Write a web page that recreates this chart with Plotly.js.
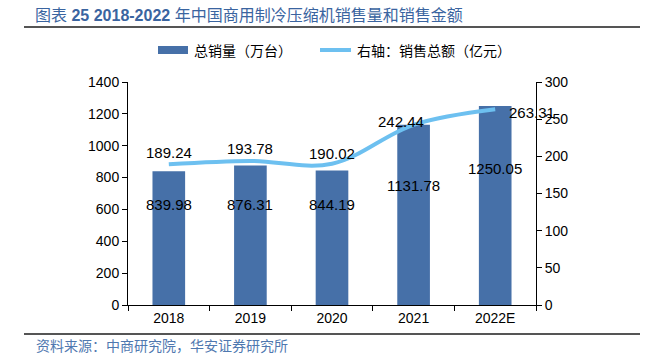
<!DOCTYPE html>
<html><head><meta charset="utf-8">
<script src="https://cdn.plot.ly/plotly-3.0.1.min.js"></script>
<style>html,body{margin:0;padding:0;background:#fff}</style>
</head><body><div id="chart" style="width:653px;height:360px"></div>
<script>
const years = ['2018', '2019', '2020', '2021', '2022E'];
const salesVolume = [839.98, 876.31, 844.19, 1131.78, 1250.05];
const salesAmount = [189.24, 193.78, 190.02, 242.44, 263.31];
const leftTicks = [0, 200, 400, 600, 800, 1000, 1200, 1400];
const rightTicks = [0, 50, 100, 150, 200, 250, 300];

const barLabelY = [628, 628, 628, 753, 860];
const lineLabelShiftX = [0, 0, 0, -13, 37];
const lineLabelShiftY = [12, 12, 10, 3, -3];

const FONT = 'Liberation Sans, Arial, Noto Sans CJK SC, sans-serif';
const CJK = 'Noto Sans CJK SC, sans-serif';
const L = 128, R = 536, T = 82, B = 305;
const px = X => (X - L) / (R - L);
const py = Y => (B - Y) / (B - T);

const bar = {type: 'bar', x: years, y: salesVolume, marker: {color: '#4670A8'}, yaxis: 'y', hoverinfo: 'none', showlegend: false};
const line = {type: 'scatter', mode: 'lines', x: years, y: salesAmount, yaxis: 'y2',
  line: {color: '#6DC0F0', width: 4, shape: 'spline', smoothing: 1}, hoverinfo: 'none', showlegend: false};

const annotations = [];
years.forEach((yr, i) => {
  annotations.push({x: i, y: barLabelY[i], xref: 'x', yref: 'y', text: salesVolume[i].toFixed(2),
    showarrow: false, font: {family: FONT, size: 15, color: '#000'}});
  annotations.push({x: i, y: salesAmount[i], xref: 'x', yref: 'y2', text: salesAmount[i].toFixed(2),
    showarrow: false, xshift: lineLabelShiftX[i], yshift: lineLabelShiftY[i],
    font: {family: FONT, size: 15, color: '#000'}});
});
annotations.push({xref: 'paper', yref: 'paper', x: px(192), y: py(50), xanchor: 'left', yanchor: 'middle',
  text: '总销量（万台）', showarrow: false, font: {family: CJK, size: 14, color: '#000'}});
annotations.push({xref: 'paper', yref: 'paper', x: px(355), y: py(50), xanchor: 'left', yanchor: 'middle',
  text: '右轴：销售总额（亿元）', showarrow: false, font: {family: CJK, size: 14, color: '#000'}});
annotations.push({xref: 'paper', yref: 'paper', x: px(34), y: py(345), xanchor: 'left', yanchor: 'middle',
  text: '资料来源：中商研究院，华安证券研究所', showarrow: false, font: {family: CJK, size: 14, color: '#4F78B0'}});

const shapes = [
  {type: 'line', xref: 'paper', yref: 'paper', x0: px(24), x1: px(640), y0: py(27), y1: py(27), line: {color: '#555', width: 2}},
  {type: 'line', xref: 'paper', yref: 'paper', x0: px(24), x1: px(640), y0: py(334), y1: py(334), line: {color: '#555', width: 2}},
  {type: 'rect', xref: 'paper', yref: 'paper', x0: px(158), x1: px(188), y0: py(54), y1: py(46), fillcolor: '#4670A8', line: {width: 0}},
  {type: 'line', xref: 'paper', yref: 'paper', x0: px(320), x1: px(351), y0: py(50), y1: py(50), line: {color: '#6DC0F0', width: 4}}
];

const layout = {
  width: 653, height: 360,
  margin: {l: L, r: 653 - R, t: T, b: 360 - B, pad: 0},
  paper_bgcolor: '#fff', plot_bgcolor: '#fff',
  bargap: 0.6,
  showlegend: false,
  title: {text: '图表 <b>25 2018-2022</b> 年中国商用制冷压缩机销售量和销售金额', x: 35 / 653, xanchor: 'left',
    xref: 'container', yref: 'container', y: 1 - 15 / 360, yanchor: 'middle',
    font: {family: FONT, size: 16, color: '#3A64A0'}},
  xaxis: {type: 'category', categoryorder: 'array', categoryarray: years, range: [-0.5, 4.5],
    tickson: 'boundaries', ticks: 'outside', ticklen: 5, tickcolor: '#000', tickangle: 0,
    showline: true, linecolor: '#000', linewidth: 1, showgrid: false, zeroline: false,
    tickfont: {family: FONT, size: 14, color: '#000'}},
  yaxis: {range: [0, 1400], tickvals: leftTicks, ticks: 'outside', ticklen: 5, tickcolor: '#000',
    showline: true, linecolor: '#000', linewidth: 1, showgrid: false, zeroline: false,
    tickfont: {family: FONT, size: 14, color: '#000'}},
  yaxis2: {range: [0, 300], tickvals: rightTicks, overlaying: 'y', side: 'right', ticks: 'outside', ticklen: 5, tickcolor: '#000',
    showline: true, linecolor: '#000', linewidth: 1, showgrid: false, zeroline: false,
    tickfont: {family: FONT, size: 14, color: '#000'}},
  annotations: annotations,
  shapes: shapes
};

Plotly.newPlot('chart', [bar, line], layout, {displayModeBar: false, staticPlot: true});
</script></body></html>
